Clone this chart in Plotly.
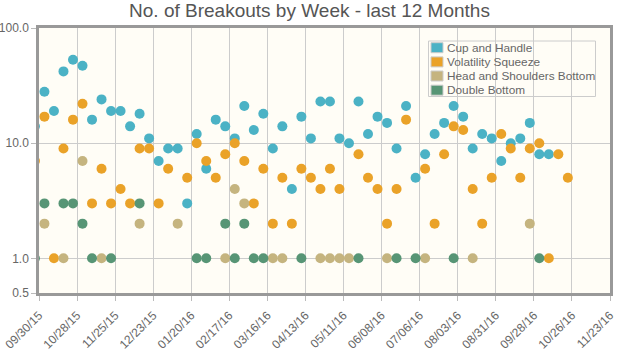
import plotly.graph_objects as go

weeks = [
    "2015-09-27", "2015-10-04", "2015-10-11", "2015-10-18", "2015-10-25",
    "2015-11-01", "2015-11-08", "2015-11-15", "2015-11-22", "2015-11-29",
    "2015-12-06", "2015-12-13", "2015-12-20", "2015-12-27", "2016-01-03",
    "2016-01-10", "2016-01-17", "2016-01-24", "2016-01-31", "2016-02-07",
    "2016-02-14", "2016-02-21", "2016-02-28", "2016-03-06", "2016-03-13",
    "2016-03-20", "2016-03-27", "2016-04-03", "2016-04-10", "2016-04-17",
    "2016-04-24", "2016-05-01", "2016-05-08", "2016-05-15", "2016-05-22",
    "2016-05-29", "2016-06-05", "2016-06-12", "2016-06-19", "2016-06-26",
    "2016-07-03", "2016-07-10", "2016-07-17", "2016-07-24", "2016-07-31",
    "2016-08-07", "2016-08-14", "2016-08-21", "2016-08-28", "2016-09-04",
    "2016-09-11", "2016-09-18", "2016-09-25", "2016-10-02", "2016-10-09",
    "2016-10-16", "2016-10-23",
]

N = None
cup_and_handle = [
    14, 28, 19, 42, 53, 47, 16, 24, 19, 19,
    14, 18, 11, 7, 9, 9, 3, 12, 6, 16,
    14, 11, 21, 13, 18, 9, 14, 4, 17, 11,
    23, 23, 11, 10, 23, 12, 17, 15, 9, 21,
    5, 8, 12, 15, 21, 17, 9, 12, 11, 7,
    10, 11, 15, 8, 8, N, N,
]
volatility_squeeze = [
    7, 17, 1, 9, 16, 22, 3, 6, 3, 4,
    3, 9, 9, 3, 6, N, 5, 10, 7, 5,
    8, 10, 7, 3, 6, 2, 5, 2, 6, 5,
    4, 6, 4, N, 8, 5, 4, 2, 4, 16,
    N, 6, 2, 8, 14, 13, 4, 2, 5, 12,
    9, 5, 9, 10, 1, 8, 5,
]
head_shoulders_bottom = [
    N, 2, N, 1, N, 7, N, 1, N, N,
    N, 2, N, N, N, 2, N, N, N, N,
    1, 4, 3, N, N, 1, 1, N, N, N,
    1, 1, 1, 1, N, N, N, 1, N, N,
    N, 1, N, N, N, N, 1, N, N, N,
    N, N, 2, N, N, N, N,
]
double_bottom = [
    1, 3, N, 3, 3, 2, 1, N, 1, N,
    N, 3, N, N, N, N, N, 1, 1, N,
    2, 1, 2, 1, 1, N, N, N, 1, N,
    N, N, N, N, 1, N, N, N, 1, N,
    1, N, N, N, 1, N, N, N, N, N,
    N, N, N, 1, N, N, N,
]

series_names = ["Cup and Handle", "Volatility Squeeze",
                "Head and Shoulders Bottom", "Double Bottom"]
series_values = [cup_and_handle, volatility_squeeze,
                 head_shoulders_bottom, double_bottom]
colors = ["#4bb2c5", "#eaa228", "#c5b47f", "#579575"]

x_tick_vals = [
    "2015-09-30", "2015-10-28", "2015-11-25", "2015-12-23", "2016-01-20",
    "2016-02-17", "2016-03-16", "2016-04-13", "2016-05-11", "2016-06-08",
    "2016-07-06", "2016-08-03", "2016-08-31", "2016-09-28", "2016-10-26",
    "2016-11-23",
]
x_tick_text = [
    "09/30/15", "10/28/15", "11/25/15", "12/23/15", "01/20/16",
    "02/17/16", "03/16/16", "04/13/16", "05/11/16", "06/08/16",
    "07/06/16", "08/03/16", "08/31/16", "09/28/16", "10/26/16",
    "11/23/16",
]
y_tick_vals = [0.5, 1, 10, 100]
y_tick_text = ["0.5", "1.0", "10.0", "100.0"]

W, H = 619, 355
L, R, T, B = 39, 610, 28, 293

fig = go.Figure()
for name, vals, col in zip(series_names, series_values, colors):
    fig.add_trace(go.Scatter(
        x=weeks, y=vals, mode="markers", name=name,
        marker=dict(color=col, size=10, line=dict(width=0)),
        cliponaxis=True, showlegend=False,
    ))

def px_x(p):
    return (p - L) / (R - L)

def px_y(p):
    return (B - p) / (B - T)

shapes = [dict(type="rect", xref="paper", yref="paper",
               x0=px_x(428.5), x1=px_x(595.5), y0=px_y(41), y1=px_y(96.5),
               line=dict(color="#cccccc", width=1), fillcolor="rgba(0,0,0,0)")]
annotations = []
row_centers = [47.7, 61.9, 76.0, 90.2]
for name, col, rc in zip(series_names, colors, row_centers):
    shapes.append(dict(type="rect", xref="paper", yref="paper",
                       x0=px_x(431), x1=px_x(443), y0=px_y(rc + 5), y1=px_y(rc - 5),
                       line=dict(color="#cccccc", width=1), fillcolor=col))
    annotations.append(dict(xref="paper", yref="paper", x=px_x(445), y=px_y(rc),
                            xanchor="left", yanchor="middle", showarrow=False,
                            text=name, font=dict(size=11.8, color="#666666")))

fig.update_layout(
    width=W, height=H,
    margin=dict(l=L, r=W - R, t=T, b=H - B, pad=0, autoexpand=False),
    paper_bgcolor="white",
    plot_bgcolor="#fffdf6",
    font=dict(family="Liberation Sans, Arial, sans-serif", color="#666666", size=12),
    title=dict(text="No. of Breakouts by Week - last 12 Months",
               x=0.5, xref="container", xanchor="center",
               y=1 - 10 / H, yref="container", yanchor="middle",
               font=dict(size=19, color="#555555")),
    showlegend=False,
    shapes=shapes,
    annotations=annotations,
)
fig.update_xaxes(
    type="date", range=["2015-09-30", "2016-11-23"], automargin=False,
    tickvals=x_tick_vals, ticktext=x_tick_text, tickangle=-45,
    tickfont=dict(size=12, color="#666666"), ticklabelstandoff=3,
    showgrid=True, gridcolor="#cccccc", gridwidth=1,
    showline=True, linecolor="#999999", linewidth=2.5, mirror=True,
    ticks="outside", ticklen=5, tickcolor="#bbbbbb", zeroline=False,
)
fig.update_yaxes(
    type="log", range=[-0.30103, 2], automargin=False,
    tickvals=y_tick_vals, ticktext=y_tick_text,
    tickfont=dict(size=12, color="#666666"),
    showgrid=True, gridcolor="#cccccc", gridwidth=1,
    showline=True, linecolor="#999999", linewidth=2.5, mirror=True,
    ticks="outside", ticklen=5, tickcolor="#bbbbbb", zeroline=False,
)

fig.write_html(
    "out.html",
    config={"displayModeBar": False},
    post_script="document.body.style.margin='0';document.body.style.overflow='hidden';",
)
